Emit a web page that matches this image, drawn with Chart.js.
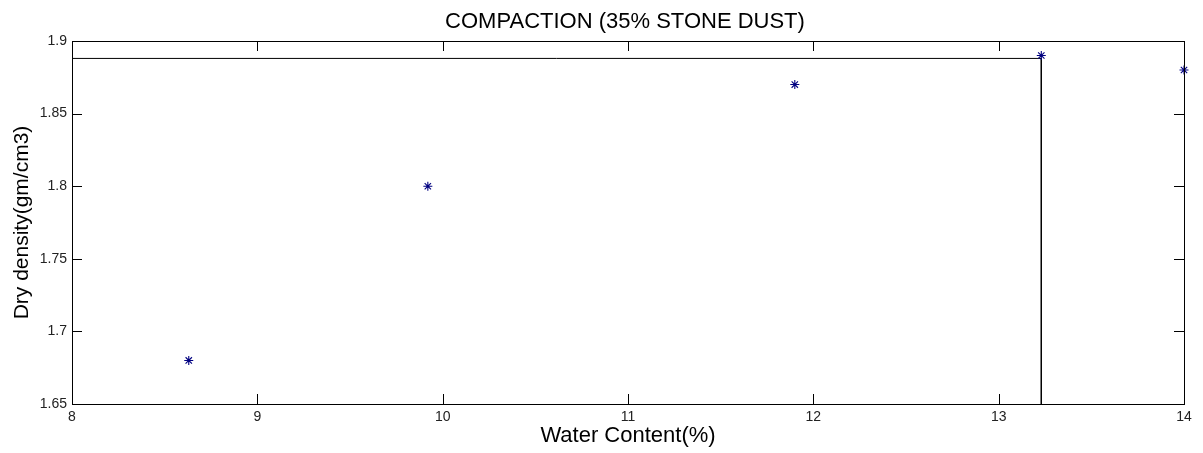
<!DOCTYPE html>
<html>
<head>
<meta charset="utf-8">
<title>Compaction</title>
<script src="https://cdn.jsdelivr.net/npm/chart.js@4/dist/chart.umd.min.js"></script>
<style>
  body { margin: 0; background: #fff; }
  canvas { display: block; }
</style>
</head>
<body>
<canvas id="compactionChart" width="1203" height="453"></canvas>
<script>
// measured points: water content (%) vs dry density (gm/cm3)
const waterContent = [8.63, 9.92, 11.9, 13.23, 14.0];
const dryDensity = [1.68, 1.80, 1.87, 1.89, 1.88];

// guide lines marking the maximum dry density / optimum moisture content
const guideX = [8, 13.23, 13.23];
const guideY = [1.888, 1.888, 1.65];

const xTicks = [8, 9, 10, 11, 12, 13, 14];
const yTicks = [1.65, 1.7, 1.75, 1.8, 1.85, 1.9];

const chartTitle = 'COMPACTION (35% STONE DUST)';

const FONT = "'Liberation Sans', Arial, sans-serif";

// box round the plot with short ticks pointing inwards on every side,
// plus the title centred over the plot area
const frameTicks = {
    id: 'frameTicks',
    afterDatasetsDraw(chart) {
        const {ctx, chartArea: a, scales: {x, y}} = chart;
        const len = 10;
        ctx.save();
        ctx.strokeStyle = '#000';
        ctx.lineWidth = 1;
        ctx.beginPath();
        xTicks.forEach(v => {
            const px = Math.round(x.getPixelForValue(v)) + 0.5;
            ctx.moveTo(px, a.bottom); ctx.lineTo(px, a.bottom - len);
            ctx.moveTo(px, a.top); ctx.lineTo(px, a.top + len);
        });
        yTicks.forEach(v => {
            const py = Math.round(y.getPixelForValue(v)) + 0.5;
            ctx.moveTo(a.left, py); ctx.lineTo(a.left + len, py);
            ctx.moveTo(a.right, py); ctx.lineTo(a.right - len, py);
        });
        ctx.stroke();
        ctx.strokeRect(Math.round(a.left) + 0.5, Math.round(a.top) + 0.5,
            Math.round(a.right - a.left), Math.round(a.bottom - a.top));

        ctx.fillStyle = '#000';
        ctx.font = '22px ' + FONT;
        ctx.textAlign = 'center';
        ctx.textBaseline = 'middle';
        ctx.fillText(chartTitle, (a.left + a.right) / 2 - 3, 22);
        ctx.restore();
    }
};

const ctx = document.getElementById('compactionChart').getContext('2d');

new Chart(ctx, {
    type: 'scatter',
    data: {
        datasets: [{
            label: 'Dry density',
            data: waterContent.map((w, i) => ({x: w, y: dryDensity[i]})),
            pointStyle: 'star',
            pointRadius: 4.5,
            pointBorderWidth: 1.1,
            borderColor: '#000080',
            backgroundColor: '#000080',
            clip: false
        }, {
            label: 'MDD / OMC',
            data: guideX.map((w, i) => ({x: w, y: guideY[i]})),
            showLine: true,
            pointRadius: 0,
            borderColor: '#000',
            borderWidth: 1
        }]
    },
    options: {
        responsive: false,
        animation: false,
        devicePixelRatio: 1,
        layout: { padding: { left: 0, right: 19, top: 41, bottom: 0 } },
        plugins: {
            legend: { display: false },
            tooltip: { enabled: false },
            title: { display: false }
        },
        scales: {
            x: {
                type: 'linear',
                min: 8,
                max: 14,
                afterBuildTicks: s => { s.ticks = xTicks.map(v => ({value: v})); },
                afterFit: s => { s.height = 49; },
                grid: { display: false, drawTicks: false },
                border: { display: false },
                ticks: {
                    color: '#222',
                    padding: 5,
                    maxRotation: 0,
                    font: { family: FONT, size: 14 },
                    callback: v => String(v)
                },
                title: {
                    display: true,
                    text: 'Water Content(%)',
                    color: '#000',
                    font: { family: FONT, size: 22 },
                    padding: { top: 0, bottom: 4 }
                }
            },
            y: {
                type: 'linear',
                min: 1.65,
                max: 1.9,
                afterBuildTicks: s => { s.ticks = yTicks.map(v => ({value: v})); },
                afterFit: s => { s.width = 72; },
                grid: { display: false, drawTicks: false },
                border: { display: false },
                ticks: {
                    color: '#222',
                    padding: 5,
                    font: { family: FONT, size: 14 },
                    callback: v => String(+v.toFixed(2))
                },
                title: {
                    display: true,
                    text: 'Dry density(gm/cm3)',
                    color: '#000',
                    font: { family: FONT, size: 21 },
                    padding: { top: 10, bottom: 0 }
                }
            }
        }
    },
    plugins: [frameTicks]
});
</script>
</body>
</html>
